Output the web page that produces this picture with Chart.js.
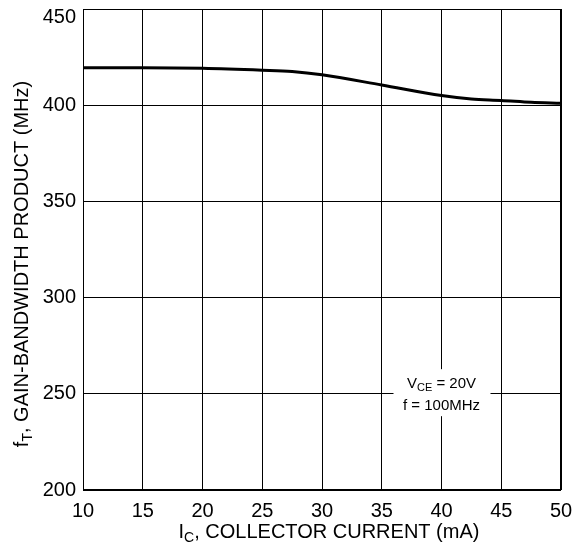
<!DOCTYPE html>
<html><head><meta charset="utf-8">
<script src="https://cdn.jsdelivr.net/npm/chart.js@4/dist/chart.umd.min.js"></script>
<style>html,body{margin:0;padding:0;background:#fff}canvas{display:block}</style>
</head><body>
<canvas id="c" width="582" height="545"></canvas>
<script>
const collectorCurrent = [10, 15, 20, 25, 27.5, 30, 35, 40, 42.5, 45, 47.5, 50];
const gainBandwidth = [419.5, 419.5, 419.2, 418.2, 417.5, 415.8, 410.5, 405, 403.2, 402.5, 401.5, 401];
const xTicks = [10, 15, 20, 25, 30, 35, 40, 45, 50];
const yTicks = [200, 250, 300, 350, 400, 450];
const FONT = '"Liberation Sans", Arial, sans-serif';

function drawSub(ctx, parts, x, y, align) {
  let total = 0;
  parts.forEach(p => { ctx.font = p.size + 'px ' + FONT; total += ctx.measureText(p.t).width; });
  let cx = align === 'center' ? x - total / 2 : x;
  ctx.textAlign = 'left';
  parts.forEach(p => {
    ctx.font = p.size + 'px ' + FONT;
    ctx.fillText(p.t, cx, y + (p.dy || 0));
    cx += ctx.measureText(p.t).width;
  });
}

const overlay = {
  id: 'overlay',
  afterDraw(chart) {
    const ctx = chart.ctx, a = chart.chartArea;
    const xs = chart.scales.x, ys = chart.scales.y;
    ctx.save();
    ctx.strokeStyle = '#000'; ctx.lineWidth = 1;
    ctx.strokeRect(Math.round(a.left) + 0.5, Math.round(a.top) + 0.5, Math.round(a.right - a.left) - 1, Math.round(a.bottom - a.top) - 1);
    ctx.fillStyle = '#000';
    ctx.textBaseline = 'middle';
    drawSub(ctx, [{t: 'I', size: 20}, {t: 'C', size: 14, dy: 6}, {t: ', COLLECTOR CURRENT (mA)', size: 20}], (a.left + a.right) / 2 + 7, 532, 'center');
    ctx.save();
    ctx.translate(22, 264);
    ctx.rotate(-Math.PI / 2);
    drawSub(ctx, [{t: 'f', size: 20}, {t: 'T', size: 14, dy: 6}, {t: ', GAIN-BANDWIDTH PRODUCT (MHz)', size: 20}], 0, 0, 'center');
    ctx.restore();
    const cx = xs.getPixelForValue(40);
    const cy = ys.getPixelForValue(255);
    ctx.fillStyle = '#fff';
    ctx.fillRect(cx - 48, cy - 15, 97, 47);
    ctx.fillStyle = '#000';
    drawSub(ctx, [{t: 'V', size: 15}, {t: 'CE', size: 11, dy: 4}, {t: ' = 20V', size: 15}], cx, cy, 'center');
    drawSub(ctx, [{t: 'f = 100MHz', size: 15}], cx, cy + 22, 'center');
    ctx.restore();
  }
};

new Chart(document.getElementById('c'), {
  type: 'scatter',
  data: {
    datasets: [{
      data: collectorCurrent.map((x, i) => ({x, y: gainBandwidth[i]})),
      showLine: true,
      borderColor: '#000',
      borderWidth: 3,
      pointRadius: 0,
      cubicInterpolationMode: 'monotone',
      fill: false
    }]
  },
  options: {
    responsive: false,
    animation: false,
    devicePixelRatio: 1,
    layout: {padding: {top: 9, right: 21, left: 0, bottom: 0}},
    plugins: {legend: {display: false}, tooltip: {enabled: false}},
    scales: {
      x: {
        type: 'linear', min: 10, max: 50,
        afterBuildTicks: s => { s.ticks = xTicks.map(v => ({value: v})); },
        afterFit: s => { s.height = 55; s.paddingLeft = 0; s.paddingRight = 0; },
        grid: {color: '#000', lineWidth: 1, drawTicks: false},
        border: {display: false},
        ticks: {color: '#000', font: {family: FONT, size: 20}, padding: 9, maxRotation: 0}
      },
      y: {
        type: 'linear', min: 200, max: 450,
        afterBuildTicks: s => { s.ticks = yTicks.map(v => ({value: v})); },
        afterFit: s => { s.width = 83; s.paddingTop = 0; s.paddingBottom = 0; },
        grid: {color: '#000', lineWidth: 1, drawTicks: false},
        border: {display: false},
        ticks: {
          color: '#000', font: {family: FONT, size: 20, lineHeight: 0.8}, padding: 7,
          callback: v => v === 450 ? ['', String(v)] : String(v)
        }
      }
    }
  },
  plugins: [overlay]
});
</script>
</body></html>
